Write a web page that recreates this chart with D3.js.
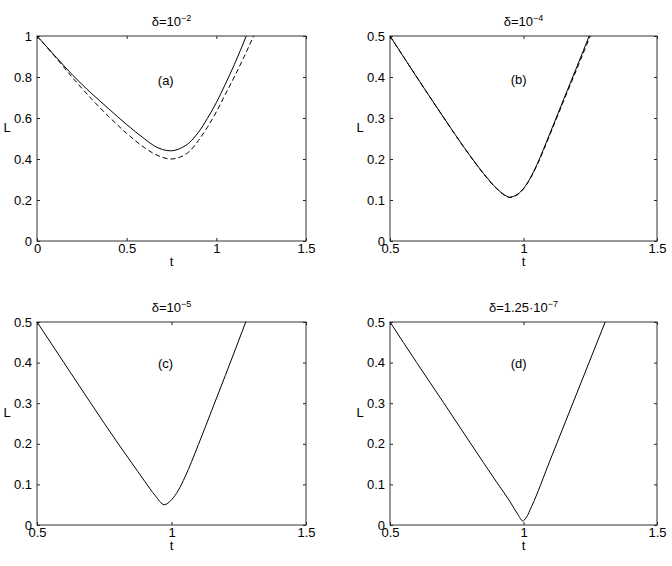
<!DOCTYPE html>
<html>
<head>
<meta charset="utf-8">
<script src="https://cdn.jsdelivr.net/npm/d3@7"></script>
<style>
    body { margin: 0; background: #fff; }
    text { font-family: "Liberation Sans", Arial, Helvetica, sans-serif; fill: #000; }
</style>
</head>
<body>
<svg id="chart" width="672" height="566"></svg>
<script>
// Titles: base text and superscript exponent
const titleBase = ['δ=10', 'δ=10', 'δ=10', 'δ=1.25·10'];
const titleExp = ['−2', '−4', '−5', '−7'];
const panelLabels = ['(a)', '(b)', '(c)', '(d)'];

// Tick labels
const xTicksA = [0, 0.5, 1, 1.5];
const xTicksB = [0.5, 1, 1.5];
const yTicksA = [0, 0.2, 0.4, 0.6, 0.8, 1];
const yTicksB = [0, 0.1, 0.2, 0.3, 0.4, 0.5];

// Panel (a), delta = 1e-2
const tA = [0, 0.1, 0.2, 0.3, 0.4, 0.5, 0.6, 0.65, 0.7, 0.743, 0.8, 0.85, 0.9, 0.95, 1.0, 1.05, 1.1, 1.167];
const lA = [1.0, 0.903, 0.808, 0.723, 0.645, 0.568, 0.498, 0.466, 0.446, 0.44, 0.452, 0.48, 0.53, 0.598, 0.675, 0.765, 0.86, 1.0];
const tAdash = [0, 0.1, 0.2, 0.3, 0.4, 0.5, 0.6, 0.65, 0.7, 0.745, 0.8, 0.85, 0.9, 0.95, 1.0, 1.05, 1.1, 1.15, 1.208];
const lAdash = [1.0, 0.9, 0.795, 0.697, 0.607, 0.525, 0.455, 0.427, 0.408, 0.40, 0.41, 0.437, 0.49, 0.555, 0.63, 0.715, 0.80, 0.89, 1.0];

// Panel (b), delta = 1e-4
const tB = [0.5, 0.6, 0.7, 0.8, 0.85, 0.9, 0.93, 0.947, 0.97, 1.0, 1.025, 1.05, 1.1, 1.15, 1.2, 1.246];
const lB = [0.5, 0.4, 0.302, 0.208, 0.165, 0.128, 0.112, 0.107, 0.111, 0.128, 0.153, 0.186, 0.264, 0.345, 0.425, 0.5];
const tBdash = [0.5, 0.6, 0.7, 0.8, 0.85, 0.9, 0.93, 0.947, 0.97, 1.0, 1.025, 1.05, 1.1, 1.15, 1.2, 1.25];
const lBdash = [0.5, 0.4, 0.302, 0.207, 0.164, 0.127, 0.111, 0.106, 0.110, 0.127, 0.152, 0.184, 0.261, 0.341, 0.42, 0.5];

// Panel (c), delta = 1e-5
const tC = [0.5, 0.6, 0.7, 0.8, 0.85, 0.9, 0.94, 0.973, 1.0, 1.025, 1.05, 1.1, 1.15, 1.2, 1.276];
const lC = [0.5, 0.4, 0.3, 0.202, 0.155, 0.108, 0.072, 0.05, 0.062, 0.085, 0.118, 0.198, 0.283, 0.368, 0.5];

// Panel (d), delta = 1.25e-7
const tD = [0.5, 0.6, 0.7, 0.8, 0.9, 0.95, 0.98, 0.997, 1.01, 1.03, 1.1, 1.2, 1.306];
const lD = [0.5, 0.4, 0.302, 0.203, 0.105, 0.057, 0.025, 0.01, 0.018, 0.045, 0.16, 0.325, 0.5];

const panels = [
    { box: [37, 306, 36, 241], xDom: [0, 1.5], yDom: [0, 1], xt: xTicksA, yt: yTicksA,
      series: [{ t: tA, l: lA }, { t: tAdash, l: lAdash, dash: true }], lab: [0.718, 0.785] },
    { box: [390, 657, 36, 241], xDom: [0.5, 1.5], yDom: [0, 0.5], xt: xTicksB, yt: yTicksB,
      series: [{ t: tBdash, l: lBdash, dash: true }, { t: tB, l: lB }], lab: [0.982, 0.394] },
    { box: [37, 306, 322, 525], xDom: [0.5, 1.5], yDom: [0, 0.5], xt: xTicksB, yt: yTicksB,
      series: [{ t: tC, l: lC }], lab: [0.978, 0.397] },
    { box: [390, 657, 322, 525], xDom: [0.5, 1.5], yDom: [0, 0.5], xt: xTicksB, yt: yTicksB,
      series: [{ t: tD, l: lD }], lab: [0.982, 0.397] }
];

const svg = d3.select('#chart');

panels.forEach((p, i) => {
    const [x0, x1, y0, y1] = p.box;
    const x = d3.scaleLinear().domain(p.xDom).range([x0, x1]);
    const y = d3.scaleLinear().domain(p.yDom).range([y1, y0]);
    const g = svg.append('g');

    // Axes with inward ticks on all four sides
    const styleAxis = sel => {
        sel.select('.domain').remove();
        sel.selectAll('line').attr('stroke', '#222');
        sel.selectAll('text').attr('font-size', 13).attr('fill', '#000');
    };
    g.append('g').attr('transform', `translate(0,${y1})`)
        .call(d3.axisBottom(x).tickValues(p.xt).tickSizeInner(-3).tickSizeOuter(0).tickPadding(3).tickFormat(d => String(d)))
        .call(styleAxis);
    g.append('g').attr('transform', `translate(0,${y0})`)
        .call(d3.axisTop(x).tickValues(p.xt).tickSizeInner(-3).tickSizeOuter(0).tickFormat(''))
        .call(styleAxis);
    g.append('g').attr('transform', `translate(${x0},0)`)
        .call(d3.axisLeft(y).tickValues(p.yt).tickSizeInner(-3).tickSizeOuter(0).tickPadding(5).tickFormat(d => String(d)))
        .call(styleAxis);
    g.append('g').attr('transform', `translate(${x1},0)`)
        .call(d3.axisRight(y).tickValues(p.yt).tickSizeInner(-3).tickSizeOuter(0).tickFormat(''))
        .call(styleAxis);

    // Box
    g.append('rect')
        .attr('x', x0).attr('y', y0)
        .attr('width', x1 - x0).attr('height', y1 - y0)
        .attr('fill', 'none').attr('stroke', '#333').attr('stroke-width', 1);

    // Curves
    const line = d3.line()
        .x(d => x(d[0]))
        .y(d => y(d[1]))
        .curve(d3.curveMonotoneX);
    p.series.forEach(s => {
        g.append('path')
            .datum(s.t.map((t, k) => [t, s.l[k]]))
            .attr('d', line)
            .attr('fill', 'none')
            .attr('stroke', '#000')
            .attr('stroke-width', 1)
            .attr('stroke-dasharray', s.dash ? '5,3' : null);
    });

    // Panel label
    g.append('text')
        .attr('x', x(p.lab[0])).attr('y', y(p.lab[1]))
        .attr('text-anchor', 'middle').attr('dy', '0.35em')
        .attr('font-size', 13)
        .text(panelLabels[i]);

    // Title with superscript
    const cx = (x0 + x1) / 2;
    const title = g.append('text')
        .attr('x', cx).attr('y', y0 - 10)
        .attr('text-anchor', 'middle')
        .attr('font-size', 13);
    title.append('tspan').text(titleBase[i]);
    title.append('tspan').attr('dy', -5).attr('font-size', 9).text(titleExp[i]);

    // Axis labels
    g.append('text')
        .attr('x', cx).attr('y', y1 + 25)
        .attr('text-anchor', 'middle').attr('font-size', 13)
        .text('t');
    g.append('text')
        .attr('x', x0 - 30).attr('y', (y0 + y1) / 2 - 11)
        .attr('text-anchor', 'middle').attr('dy', '0.35em').attr('font-size', 13)
        .text('L');
});
</script>
</body>
</html>
